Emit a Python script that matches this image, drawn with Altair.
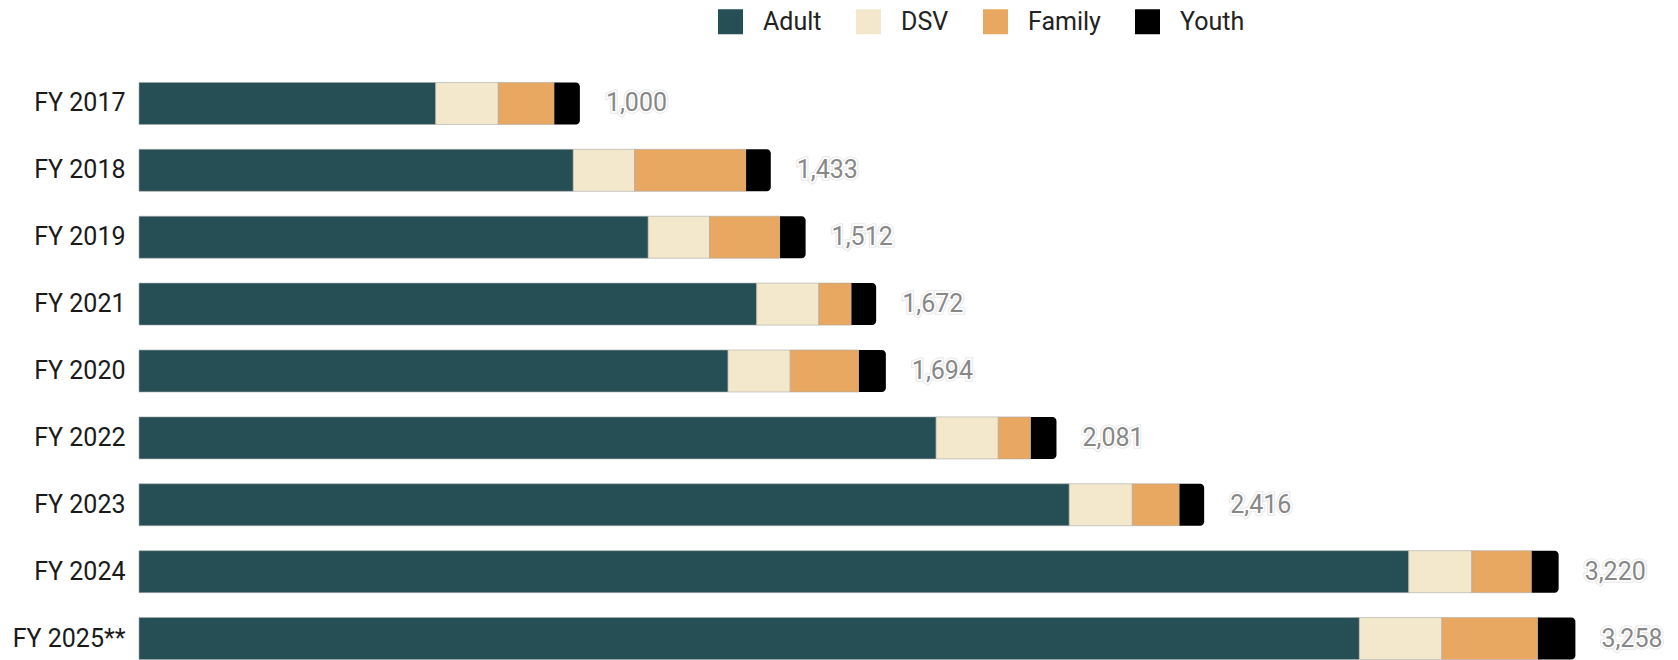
import altair as alt
import pandas as pd

years = ["FY 2017", "FY 2018", "FY 2019", "FY 2021", "FY 2020", "FY 2022", "FY 2023", "FY 2024", "FY 2025**"]
categories = ["Adult", "DSV", "Family", "Youth"]
adult = [673, 985, 1155, 1401, 1336, 1808, 2110, 2880, 2768]
dsv = [142, 139, 139, 141, 141, 141, 143, 143, 187]
family = [127, 253, 160, 74, 156, 74, 107, 136, 218]
youth = [58, 56, 58, 56, 61, 58, 56, 61, 85]
totals = [1000, 1433, 1512, 1672, 1694, 2081, 2416, 3220, 3258]
colors = ["#264f55", "#f4e8cc", "#e8a862", "#000000"]

rows = []
for i, y in enumerate(years):
    for j, (c, vals) in enumerate(zip(categories, [adult, dsv, family, youth])):
        rows.append({"year": y, "category": c, "value": vals[i], "order": j})
df = pd.DataFrame(rows)
tot = pd.DataFrame({"year": years, "total": totals})

yenc = alt.Y("year:N", sort=years, title=None,
             scale=alt.Scale(paddingInner=0.372, paddingOuter=0.186))
xscale = alt.Scale(domain=[0, 3400], nice=False, zero=True)
color = alt.Color("category:N", scale=alt.Scale(domain=categories, range=colors),
                  sort=categories,
                  legend=alt.Legend(title=None, orient="none", legendX=579, legendY=-61,
                                    direction="horizontal", symbolType="square",
                                    symbolSize=625, symbolStrokeWidth=0,
                                    labelFontSize=25, labelFont="Roboto",
                                    labelColor="#222222", labelOffset=20,
                                    columnPadding=34, padding=0))

base = alt.Chart(df).transform_stack(
    stack="value", groupby=["year"], as_=["x0", "x1"],
    sort=[alt.SortField("order", order="ascending")]
)

bars = base.transform_filter(alt.datum.category != "Youth").mark_bar(
    stroke="#aaaaaa", strokeWidth=0.6
).encode(
    y=yenc,
    x=alt.X("x0:Q", scale=xscale, axis=None),
    x2="x1:Q",
    color=color,
)

youth_bars = base.transform_filter(alt.datum.category == "Youth").mark_bar(
    cornerRadiusTopRight=4, cornerRadiusBottomRight=4
).encode(
    y=yenc,
    x=alt.X("x0:Q", scale=xscale, axis=None),
    x2="x1:Q",
    color=color,
)

tbase = alt.Chart(tot).encode(
    y=yenc,
    x=alt.X("total:Q", scale=xscale, axis=None),
    text=alt.Text("total:Q", format=","),
)
halo1 = tbase.mark_text(align="left", baseline="middle", dx=26, fontSize=25, font="Roboto",
                        stroke="#e2e2e2", strokeWidth=5, fill="#e2e2e2")
halo2 = tbase.mark_text(align="left", baseline="middle", dx=26, fontSize=25, font="Roboto",
                        stroke="#ffffff", strokeWidth=3.5, fill="#ffffff")
labels = tbase.mark_text(align="left", baseline="middle", dx=26, fontSize=25, font="Roboto",
                         fill="#888888")

chart = alt.layer(bars, youth_bars, halo1, halo2, labels).properties(
    width=1499, height=602,
    autosize=alt.AutoSizeParams(type="none"),
    padding={"left": 131, "top": 62, "right": 32, "bottom": 0},
).configure_view(stroke=None).configure_axisY(
    ticks=False, domain=False, labelFontSize=25, labelFont="Roboto",
    labelColor="#1a1a1a", labelPadding=14, grid=False
)

chart.save("out.html", embed_options={"renderer": "svg", "actions": False})
